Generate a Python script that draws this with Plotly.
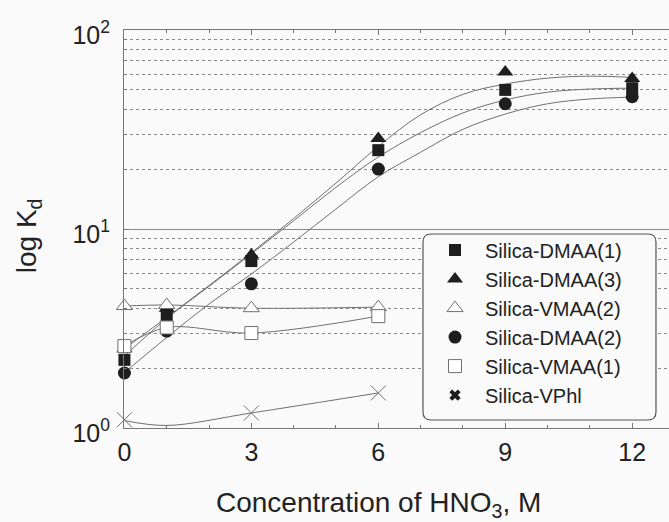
import plotly.graph_objects as go

# ---- data ----
conc = [0, 1, 3, 6, 9, 12]
dmaa1 = [2.2, 3.7, 6.9, 24.9, 50, 51]
dmaa3 = [2.5, 4.0, 7.4, 28.5, 61.5, 57]
dmaa2 = [1.89, 3.07, 5.3, 20.0, 42.6, 46.2]

conc_short = [0, 1, 3, 6]
vmaa2 = [4.1, 4.15, 4.0, 4.05]
vmaa1 = [2.58, 3.2, 3.0, 3.65]
vphl = [1.10, 0.99, 1.19, 1.50]

# fitted curves
fit_x = [0, 1, 2, 3, 4, 5, 6, 7, 8, 9, 10, 11, 12]
fit_dmaa3 = [2.5, 3.6, 5.2, 7.6, 11.3, 17.0, 26.0, 37.5, 47.5, 53.5, 57.3, 58.6, 57.8]
fit_dmaa1 = [2.3, 3.55, 5.15, 7.5, 11.0, 16.2, 23.0, 30.5, 38.3, 44.5, 48.7, 50.5, 51.0]
fit_dmaa2 = [1.9, 2.85, 4.2, 5.94, 8.6, 12.6, 18.3, 24.3, 31.7, 37.8, 42.6, 45.0, 46.0]
fit_vphl = [1.09, 1.03, 1.19, 1.50]

x_ticks = [0, 3, 6, 9, 12]
y_ticks = [1, 10, 100]
y_ticktext = ["10<sup>0</sup>", "10<sup>1</sup>", "10<sup>2</sup>"]
y_minor = [2, 3, 4, 5, 6, 7, 8, 9, 20, 30, 40, 50, 60, 70, 80, 90]

FONT = "Liberation Sans, Arial, sans-serif"
TXT = "#222222"
LINE = "#707070"
BLACK = "#1e1e1e"
BG = "#fafafa"

fig = go.Figure()

line_style = dict(color=LINE, width=1, shape="spline", smoothing=1.0)
for ys in (fit_dmaa3, fit_dmaa1, fit_dmaa2):
    fig.add_trace(go.Scatter(x=fit_x, y=ys, mode="lines", line=line_style,
                             showlegend=False, hoverinfo="skip"))
for ys in (vmaa2, vmaa1, fit_vphl):
    fig.add_trace(go.Scatter(x=conc_short, y=ys, mode="lines", line=line_style,
                             showlegend=False, hoverinfo="skip"))

fig.add_trace(go.Scatter(x=conc, y=dmaa1, mode="markers", name="Silica-DMAA(1)",
                         cliponaxis=False,
                         marker=dict(symbol="square", size=12, color=BLACK,
                                     line=dict(width=0))))
fig.add_trace(go.Scatter(x=conc, y=dmaa3, mode="markers", name="Silica-DMAA(3)",
                         cliponaxis=False,
                         marker=dict(symbol="triangle-up", size=14, color=BLACK,
                                     line=dict(width=0))))
fig.add_trace(go.Scatter(x=conc_short, y=vmaa2, mode="markers", name="Silica-VMAA(2)",
                         cliponaxis=False,
                         marker=dict(symbol="triangle-up", size=14, color="white",
                                     line=dict(width=1, color=LINE))))
fig.add_trace(go.Scatter(x=conc, y=dmaa2, mode="markers", name="Silica-DMAA(2)",
                         cliponaxis=False,
                         marker=dict(symbol="circle", size=13, color=BLACK,
                                     line=dict(width=0))))
fig.add_trace(go.Scatter(x=conc_short, y=vmaa1, mode="markers", name="Silica-VMAA(1)",
                         cliponaxis=False,
                         marker=dict(symbol="square", size=13, color="white",
                                     line=dict(width=1, color=LINE))))
fig.add_trace(go.Scatter(x=conc_short, y=vphl, mode="markers", name="Silica-VPhl",
                         showlegend=False, cliponaxis=False,
                         marker=dict(symbol="x-thin-open", size=15, color=LINE,
                                     line=dict(width=1, color=LINE))))
fig.add_trace(go.Scatter(x=[None], y=[None], mode="markers", name="Silica-VPhl",
                         marker=dict(symbol="x", size=10, color=BLACK,
                                     line=dict(width=0))))

# rounded legend frame (paper coordinates)
x0, x1, y0, y1 = 0.5486, 0.9761, 0.0201, 0.4874
rx, ry = 0.0147, 0.0201
path = (f"M {x0+rx},{y1} L {x1-rx},{y1} Q {x1},{y1} {x1},{y1-ry} "
        f"L {x1},{y0+ry} Q {x1},{y0} {x1-rx},{y0} L {x0+rx},{y0} "
        f"Q {x0},{y0} {x0},{y0+ry} L {x0},{y1-ry} Q {x0},{y1} {x0+rx},{y1} Z")
fig.add_shape(type="path", path=path, xref="paper", yref="paper",
              line=dict(color="#555555", width=1.2), fillcolor=BG, layer="above")

fig.update_layout(
    width=669, height=522,
    margin=dict(l=124, r=0, t=30, b=94),
    paper_bgcolor=BG, plot_bgcolor=BG,
    font=dict(family=FONT, color=TXT),
    legend=dict(x=0.5523, y=0.496, xanchor="left", yanchor="top",
                bgcolor="rgba(0,0,0,0)", borderwidth=0,
                font=dict(size=20, family=FONT, color=TXT),
                itemwidth=50, tracegroupgap=0),
    annotations=[
        dict(text="Concentration of HNO<sub>3</sub>, M", x=6, xref="x",
             y=-0.193, yref="paper", yanchor="middle", xanchor="center",
             showarrow=False, font=dict(size=28, family=FONT, color=TXT)),
        dict(text="log K<sub>d</sub>", x=-0.176, xref="paper", y=0.482,
             yref="paper", textangle=-90, showarrow=False, xanchor="center",
             yanchor="middle", font=dict(size=28, family=FONT, color=TXT)),
    ],
)

fig.update_xaxes(range=[-0.01, 12.87], tickvals=x_ticks, ticks="inside", ticklen=5,
                 tickcolor="#777777", showline=True, linecolor="#777777", linewidth=1,
                 mirror="ticks", showgrid=False, zeroline=False,
                 ticklabelstandoff=2,
                 tickfont=dict(size=25, family=FONT, color=TXT),
                 minor=dict(dtick=1, ticks="inside", ticklen=3, tickcolor="#777777",
                            showgrid=False))
fig.update_yaxes(type="log", range=[0, 2], tickvals=y_ticks, ticktext=y_ticktext,
                 ticks="inside", ticklen=5, tickcolor="#777777",
                 showline=True, linecolor="#777777", linewidth=1, mirror=False,
                 showgrid=True, gridcolor="#8a8a8a", gridwidth=1, zeroline=False,
                 ticklabelstandoff=8, ticklabelshift=5,
                 tickfont=dict(size=25, family=FONT, color=TXT),
                 minor=dict(tickvals=y_minor, ticks="inside", ticklen=3,
                            tickcolor="#777777", showgrid=True, gridcolor="#8a8a8a",
                            griddash="3px,3px", gridwidth=1))

fig.write_html("out.html", config={"displayModeBar": False},
               post_script="document.body.style.margin='0';"
                           "document.body.style.overflow='hidden';")
